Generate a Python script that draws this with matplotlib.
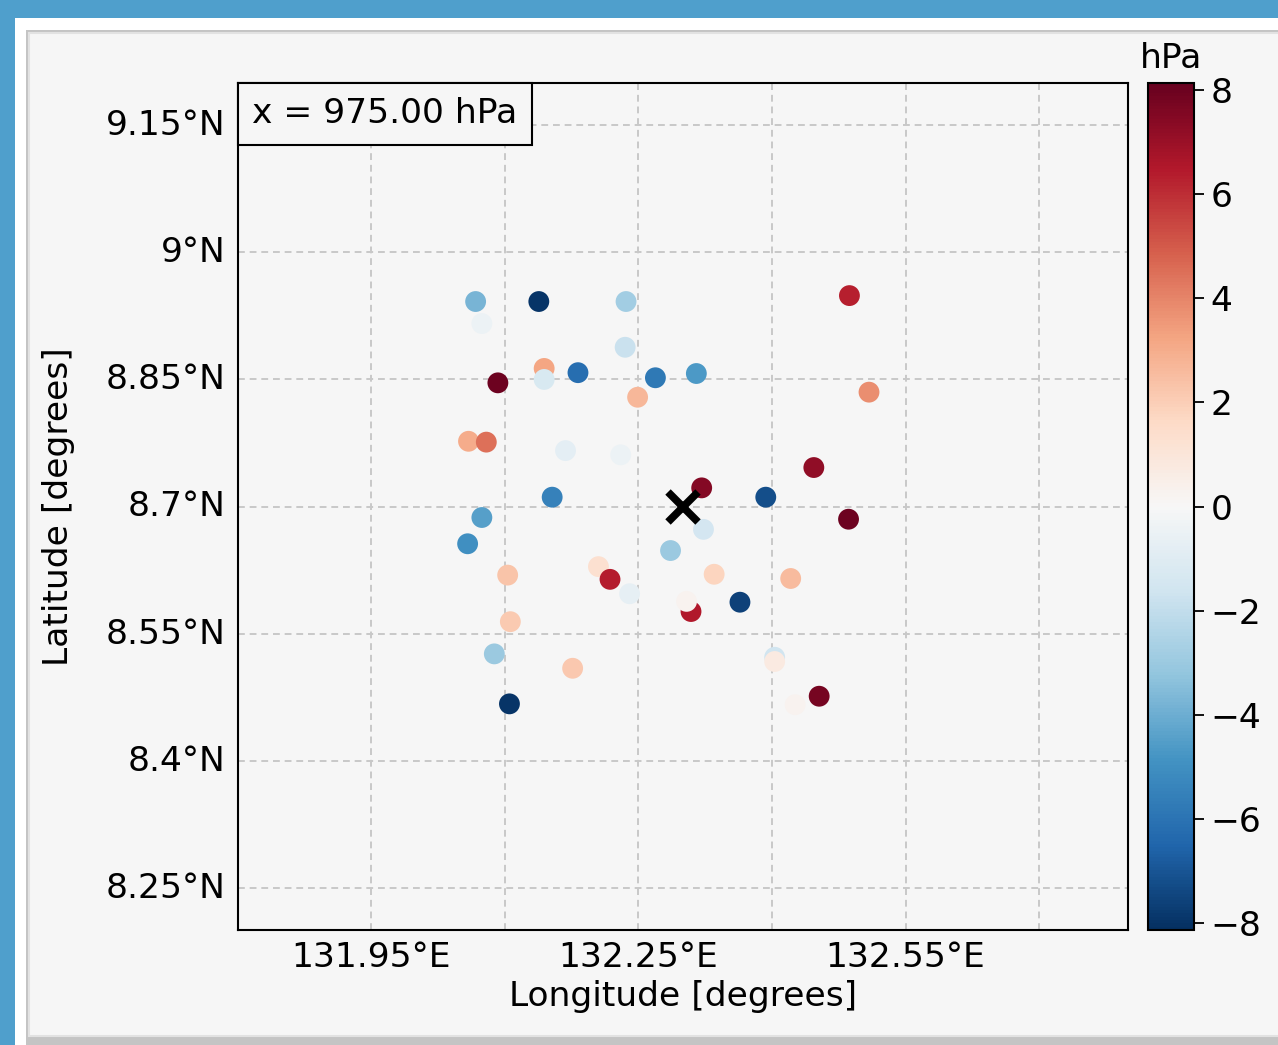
import matplotlib
matplotlib.use("Agg")
import matplotlib.pyplot as plt
import matplotlib.transforms as mtransforms
from matplotlib.patches import Rectangle
from matplotlib.offsetbox import AnchoredText
import numpy as np

# station positions (deg) and pressure difference (hPa)
lons = [132.067, 132.138, 132.236, 132.074, 132.235, 132.144, 132.144, 132.182,
        132.092, 132.269, 132.249, 132.059, 132.079, 132.168, 132.230, 132.153,
        132.074, 132.058, 132.315, 132.487, 132.509, 132.447, 132.321, 132.393,
        132.486, 132.323, 132.286, 132.103, 132.205, 132.218, 132.240, 132.335,
        132.309, 132.304, 132.364, 132.421, 132.106, 132.088, 132.176, 132.105,
        132.403, 132.403, 132.426, 132.453]
lats = [8.942, 8.942, 8.942, 8.916, 8.888, 8.863, 8.850, 8.858,
        8.846, 8.852, 8.829, 8.777, 8.776, 8.766, 8.761, 8.711,
        8.687, 8.656, 8.857, 8.949, 8.835, 8.746, 8.722, 8.711,
        8.685, 8.673, 8.648, 8.619, 8.629, 8.614, 8.597, 8.620,
        8.576, 8.588, 8.587, 8.615, 8.564, 8.526, 8.509, 8.467,
        8.522, 8.517, 8.466, 8.476]
dp = [-3.8, -8.0, -2.8, -0.5, -1.8, 3.2, -1.3, -6.2,
      8.0, -5.8, 2.7, 3.0, 4.5, -0.8, -0.5, -5.5,
      -4.5, -5.0, -4.7, 6.3, 3.8, 7.2, 7.5, -7.2,
      8.0, -1.5, -3.0, 2.3, 1.3, 6.4, -0.7, 1.8,
      6.5, 0.3, -7.6, 2.6, 2.1, -3.0, 2.2, -8.0,
      -1.6, 0.7, 0.3, 7.8]

center = (132.30, 8.70)
level_text = "x = 975.00 hPa"

grid_lons = [131.95, 132.10, 132.25, 132.40, 132.55, 132.70]
lon_labels = ["131.95°E", "", "132.25°E", "", "132.55°E", ""]
grid_lats = [8.25, 8.40, 8.55, 8.70, 8.85, 9.00, 9.15]
lat_labels = ["8.25°N", "8.4°N", "8.55°N", "8.7°N", "8.85°N", "9°N", "9.15°N"]
cbar_ticks = [-8, -6, -4, -2, 0, 2, 4, 6, 8]

fs = 24.8
W, H = 1278, 1045
fig = plt.figure(figsize=(W / 100, H / 100), dpi=100, facecolor='#4f9fcc')

# window-like panel behind the chart
fig.patches.append(Rectangle((15 / W, 0), 1, 1 - 18 / H, transform=fig.transFigure,
                             facecolor='white', edgecolor='none', zorder=-3))
fig.patches.append(Rectangle((26 / W, 0), 1, 1 - 30 / H, transform=fig.transFigure,
                             facecolor='#c4c4c4', edgecolor='none', zorder=-2))
fig.patches.append(Rectangle((29 / W, 9 / H), 1, 1 - 33 / H - 9 / H, transform=fig.transFigure,
                             facecolor='#f6f6f6', edgecolor='#e2e2e2', lw=1.5, zorder=-1))

ax = fig.add_axes([238 / W, 1 - 930 / H, 890 / W, 847 / H])
ax.set_facecolor('#f6f6f6')

sc = ax.scatter(lons, lats, c=dp, cmap='RdBu_r', vmin=-8.14, vmax=8.14,
                s=225, edgecolors='none', zorder=3)
ax.plot(center[0], center[1], marker='x', color='black', markersize=21,
        mew=5.5, zorder=4)

ax.set_xlim(131.8, 132.8)
ax.set_ylim(8.2, 9.2)
ax.set_xticks(grid_lons)
ax.set_xticklabels(lon_labels)
ax.set_yticks(grid_lats)
ax.set_yticklabels(lat_labels)
ax.tick_params(length=0, labelsize=fs)
ax.tick_params(axis='x', pad=8)
ax.tick_params(axis='y', pad=9)
up = mtransforms.ScaledTranslation(0, 3 / 100, fig.dpi_scale_trans)
for lab in ax.get_yticklabels():
    lab.set_transform(lab.get_transform() + up)
ax.grid(True, color='#c8c8c8', lw=1.4, linestyle=(0, (3.5, 2.5)))
for sp in ax.spines.values():
    sp.set_linewidth(1.5)

ax.set_xlabel("Longitude [degrees]", fontsize=fs)
ax.set_ylabel("Latitude [degrees]", fontsize=fs)
ax.xaxis.set_label_coords(0.5, -0.059)
ax.yaxis.set_label_coords(-0.183, 0.5)

at = AnchoredText(level_text, loc='upper left', borderpad=0, pad=0.42,
                  prop=dict(size=fs), frameon=True)
at.patch.set_linewidth(1.5)
at.patch.set_facecolor('#f6f6f6')
at.zorder = 5
ax.add_artist(at)

cax = fig.add_axes([1148 / W, 1 - 930 / H, 46 / W, 847 / H])
cb = fig.colorbar(sc, cax=cax, ticks=cbar_ticks)
cb.outline.set_linewidth(1.5)
cax.tick_params(labelsize=fs, length=7, width=1.3, pad=5)
cax.set_title("hPa", fontsize=fs, pad=11)

fig.savefig("out.png", dpi=100, facecolor=fig.get_facecolor())
